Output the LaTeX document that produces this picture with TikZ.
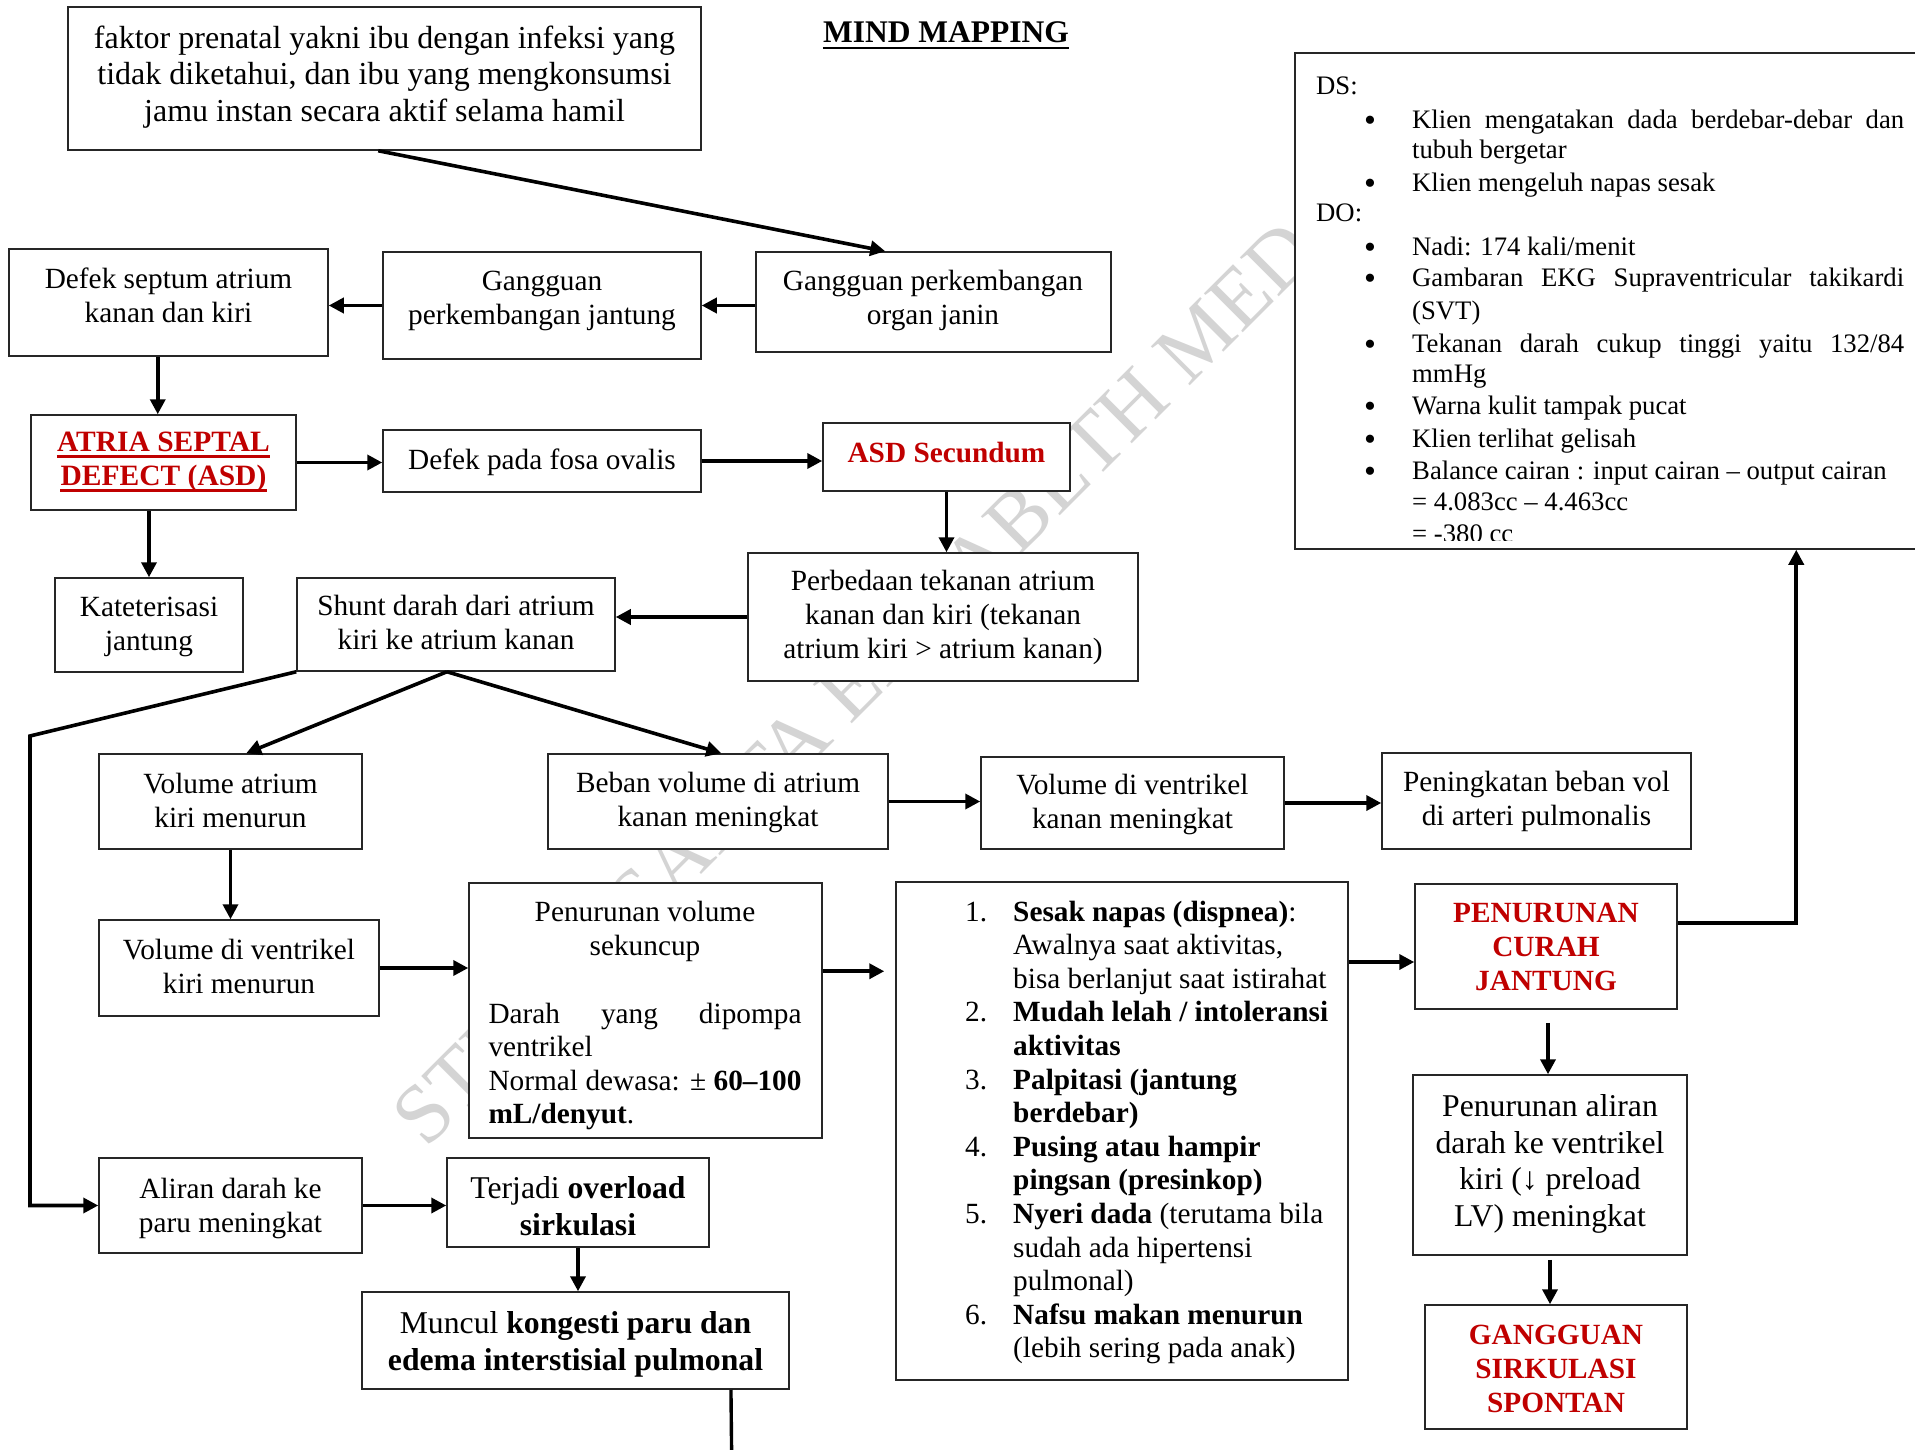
\documentclass[tikz,border=0pt]{standalone}
\usepackage{fontspec}
\setmainfont{Liberation Serif}
\usetikzlibrary{arrows.meta,calc}
\definecolor{dred}{HTML}{C00000}
\newcommand{\myfs}[2]{\fontsize{#1}{#2}\selectfont}
\newcommand{\mybx}[5]{\node[box, minimum width={(#4)-(#2)}, minimum height={(#5)-(#3)}] (#1) at ({((#2)+(#4))/2},{((#3)+(#5))/2}) {};}
\newcommand{\bul}{\makebox[48pt][l]{\raisebox{-3pt}{\fontsize{34}{34}\selectfont\textbullet}}}
\newcommand{\lnum}[1]{\makebox[48pt][l]{#1}}
\begin{document}
\begin{tikzpicture}[x=1pt,y=-1pt,
  box/.style={draw=black!85, line width=1.5pt, fill=white, inner sep=0pt, rectangle},
  txt/.style={inner sep=0pt, align=center, font=\myfs{29.3}{34}},
  bigt/.style={inner sep=0pt, align=center, font=\myfs{31.7}{36.5}},
  redt/.style={inner sep=0pt, align=center, text=dred, font=\myfs{29.3}{34}\bfseries},
  dsl/.style={inner sep=0pt, anchor=base west, font=\myfs{26.7}{31.8}},
  lst/.style={inner sep=0pt, anchor=base west, font=\myfs{29.3}{33.6}},
  con/.style={line width=3.6pt, -{Triangle[length=15pt,width=15pt]}}
]
\useasboundingbox (0,0) rectangle (1915,1450);
\fill[white] (0,0) rectangle (1915,1450);

% watermark
\node[rotate=45, anchor=base west, inner sep=0pt, text=black!17, font=\myfs{84}{84}] (wm) at (426,1150) {STIKES SANTA ELISABETH MEDAN};

% boxes
\mybx{top}{68}{7}{701}{150}
\mybx{b3}{9}{249}{328}{356}
\mybx{b4}{383}{252}{701}{359}
\mybx{b5}{756}{252}{1111}{352}
\mybx{asd}{31}{415}{296}{510}
\mybx{fosa}{383}{430}{701}{492}
\mybx{sec}{823}{423}{1070}{491}
\mybx{perb}{748}{553}{1138}{681}
\mybx{shunt}{297}{578}{615}{671}
\mybx{kat}{55}{578}{243}{672}
\mybx{vak}{99}{754}{362}{849}
\mybx{beban}{548}{754}{888}{849}
\mybx{vvkan}{981}{757}{1284}{849}
\mybx{pening}{1382}{753}{1691}{849}
\mybx{pcj}{1415}{884}{1677}{1009}
\mybx{ds}{1295}{53}{1930}{549}
\mybx{sek}{469}{883}{822}{1138}
\mybx{vvkiri}{99}{920}{379}{1016}
\mybx{aliran}{99}{1158}{362}{1253}
\mybx{overload}{447}{1158}{709}{1247}
\mybx{muncul}{362}{1292}{789}{1389}
\mybx{list}{896}{882}{1348}{1380}
\mybx{aliranlv}{1413}{1075}{1687}{1255}
\mybx{gss}{1425}{1305}{1687}{1429}

% title
\node[inner sep=0pt, anchor=base, font=\myfs{31.5}{36}\bfseries] (title) at (946,43) {MIND MAPPING};
\draw[line width=2.8pt] ([yshift=-5pt]title.base west) -- ([yshift=-5pt]title.base east);

% texts
\node[txt, font=\myfs{32}{36.6}] (ttop) at (384.5,77) {faktor prenatal yakni ibu dengan infeksi yang\\tidak diketahui, dan ibu yang mengkonsumsi\\jamu instan secara aktif selama hamil};
\node[txt] (t3) at (168.5,295.5) {Defek septum atrium\\kanan dan kiri};
\node[txt] (t4) at (542,300.5) {Gangguan\\perkembangan jantung};
\node[txt] (t5) at (933,300.5) {Gangguan perkembangan\\organ janin};
\node[inner sep=0pt, anchor=base, text=dred, font=\myfs{29.5}{34}\bfseries] (asd1) at (163.5,451.5) {ATRIA SEPTAL};
\node[inner sep=0pt, anchor=base, text=dred, font=\myfs{29.5}{34}\bfseries] (asd2) at (163.5,485.5) {DEFECT (ASD)};
\draw[dred, line width=2.5pt] ([yshift=-5pt]asd1.base west) -- ([yshift=-5pt]asd1.base east);
\draw[dred, line width=2.5pt] ([yshift=-5pt]asd2.base west) -- ([yshift=-5pt]asd2.base east);
\node[txt] (tfosa) at (542,462.5) {Defek pada fosa ovalis};
\node[redt] (tsec) at (946.5,452.5) {ASD Secundum};
\node[txt] (tperb) at (943,617.5) {Perbedaan tekanan atrium\\kanan dan kiri (tekanan\\atrium kiri > atrium kanan)};
\node[txt] (tshunt) at (456,622) {Shunt darah dari atrium\\kiri ke atrium kanan};
\node[txt] (tkat) at (149,627) {Kateterisasi\\jantung};
\node[txt] (tvak) at (230.5,800) {Volume atrium\\kiri menurun};
\node[txt] (tbeban) at (718,802.5) {Beban volume di atrium\\kanan meningkat};
\node[txt] (tvvkan) at (1132.5,804.5) {Volume di ventrikel\\kanan meningkat};
\node[txt] (tpening) at (1536.5,801) {Peningkatan beban vol\\di arteri pulmonalis};
\node[txt] (tvvkiri) at (239,966) {Volume di ventrikel\\kiri menurun};
\node[txt] (taliran) at (230.5,1208.5) {Aliran darah ke\\paru meningkat};
\node[bigt] (toverload) at (578,1206) {Terjadi \textbf{overload}\\\textbf{sirkulasi}};
\node[bigt] (tmuncul) at (575.5,1344.5) {Muncul \textbf{kongesti paru dan}\\\textbf{edema interstisial pulmonal}};
\node[redt] (tpcj) at (1546,946.5) {PENURUNAN\\CURAH\\JANTUNG};
\node[bigt] (taliranlv) at (1550,1164) {Penurunan aliran\\darah ke ventrikel\\kiri (↓ preload\\LV) meningkat};
\node[redt] (tgss) at (1556,1368.5) {GANGGUAN\\SIRKULASI\\SPONTAN};
\node[inner sep=0pt, align=left, font=\myfs{29.3}{33.5}] (tsek) at (645,1015.5) {\makebox[313pt]{Penurunan volume}\\ \makebox[313pt]{sekuncup}\\[34.5pt] \makebox[313pt][s]{Darah yang dipompa}\\ ventrikel\\ \makebox[313pt][s]{Normal dewasa: ± \textbf{60–100}}\\ \textbf{mL/denyut}.};

% numbered list
\node[lst] (l1) at (965,921) {\lnum{1.}\textbf{Sesak napas (dispnea)}:};
\node[lst] (l2) at (1013,954.6) {Awalnya saat aktivitas,};
\node[lst] (l3) at (1013,988.2) {bisa berlanjut saat istirahat};
\node[lst] (l4) at (965,1021.8) {\lnum{2.}\textbf{Mudah lelah / intoleransi}};
\node[lst] (l5) at (1013,1055.4) {\textbf{aktivitas}};
\node[lst] (l6) at (965,1089) {\lnum{3.}\textbf{Palpitasi (jantung}};
\node[lst] (l7) at (1013,1122.6) {\textbf{berdebar)}};
\node[lst] (l8) at (965,1156.2) {\lnum{4.}\textbf{Pusing atau hampir}};
\node[lst] (l9) at (1013,1189.8) {\textbf{pingsan (presinkop)}};
\node[lst] (l10) at (965,1223.4) {\lnum{5.}\textbf{Nyeri dada} (terutama bila};
\node[lst] (l11) at (1013,1257) {sudah ada hipertensi};
\node[lst] (l12) at (1013,1290.6) {pulmonal)};
\node[lst] (l13) at (965,1324.2) {\lnum{6.}\textbf{Nafsu makan menurun}};
\node[lst] (l14) at (1013,1357.8) {(lebih sering pada anak)};

% DS / DO box text
\begin{scope}
\clip (1295,53) rectangle (1930,540.5);
\node[dsl] (ds0) at (1316,95) {DS:};
\node[dsl] (ds1) at (1364,129) {\bul\makebox[492pt][s]{Klien mengatakan dada berdebar-debar dan}};
\node[dsl] (ds2) at (1412,159) {tubuh bergetar};
\node[dsl] (ds3) at (1364,192) {\bul Klien mengeluh napas sesak};
\node[dsl] (ds4) at (1316,222) {DO:};
\node[dsl] (ds5) at (1364,255) {\bul Nadi: 174 kali/menit};
\node[dsl] (ds6) at (1364,287) {\bul\makebox[492pt][s]{Gambaran EKG Supraventricular takikardi}};
\node[dsl] (ds7) at (1412,319) {(SVT)};
\node[dsl] (ds8) at (1364,352) {\bul\makebox[492pt][s]{Tekanan darah cukup tinggi yaitu 132/84}};
\node[dsl] (ds9) at (1412,382) {mmHg};
\node[dsl] (ds10) at (1364,414) {\bul Warna kulit tampak pucat};
\node[dsl] (ds11) at (1364,447) {\bul Klien terlihat gelisah};
\node[dsl] (ds12) at (1364,479) {\bul Balance cairan : input cairan – output cairan};
\node[dsl] (ds13) at (1412,510) {= 4.083cc – 4.463cc};
\node[dsl] (ds14) at (1412,542) {= -380 cc};
\end{scope}

% connectors
\draw[con] ([xshift=311pt]top.south west) -- ([xshift=130pt]b5.north west);
\draw[con] (b5.west |- b4.east) -- (b4.east);
\draw[con] (b4.west) -- (b4.west -| b3.east);
\draw[con] ([xshift=149.5pt]b3.south west) coordinate (c1) -- (c1 |- asd.north);
\draw[con] (asd.east) -- (asd.east -| fosa.west);
\draw[con] (fosa.east) -- (fosa.east -| sec.west);
\draw[con] (sec.south) -- (sec.south |- perb.north);
\draw[con] (perb.west) -- (perb.west -| shunt.east);
\draw[con] (kat.north |- asd.south) -- (kat.north);
\coordinate (shb) at ([xshift=150.7pt]shunt.south west);
\draw[con] (shb) -- ([xshift=148pt]vak.north west);
\draw[con] (shb) -- ([xshift=174pt]beban.north west);
\coordinate (bend) at (30,736);
\draw[con] (shunt.south west) -- (bend) |- (aliran.west);
\draw[con] (vak.south) -- (vak.south |- vvkiri.north);
\draw[con] (vvkiri.east) -- (vvkiri.east -| sek.west);
\draw[con] ($(sek.north east)+(0,89)$) -- ($(list.north west)+(-11,90)$);
\draw[con] (beban.east) -- (beban.east -| vvkan.west);
\draw[con] (vvkan.east) -- (vvkan.east -| pening.west);
\draw[con] (aliran.east) -- (aliran.east -| overload.west);
\draw[con] (overload.south) -- (overload.south |- muncul.north);
\coordinate (mend) at (731.7,1460);
\draw[line width=3.4pt] ([xshift=369.7pt]muncul.south west) -- (mend);
\coordinate (pin) at ($(pcj.west)+(0,15.5)$);
\draw[con] (list.east |- pin) -- (pin);
\coordinate (pout) at ($(pcj.east)+(0,-23.5)$);
\coordinate (dsin) at ([xshift=502pt]ds.south west);
\draw[con] (pout) -| (dsin);
\draw[con] ([xshift=2pt,yshift=-13pt]pcj.south) coordinate (c2) -- (c2 |- aliranlv.north);
\draw[con] ([yshift=-4pt]aliranlv.south) -- (aliranlv.south |- gss.north);
\end{tikzpicture}
\end{document}
